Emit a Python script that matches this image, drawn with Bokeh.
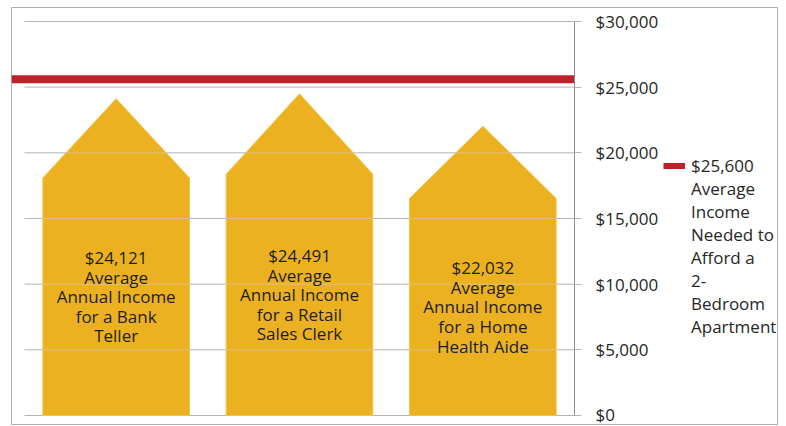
from bokeh.plotting import figure
from bokeh.models import Range1d, FixedTicker, NumeralTickFormatter, Legend, LegendItem, ColumnDataSource
from bokeh.embed import file_html
from bokeh.resources import INLINE
from bokeh.core.properties import value

# ---- data ----
categories = ["Bank Teller", "Retail Sales Clerk", "Home Health Aide"]
annual_income = [24121, 24491, 22032]
bar_texts = [
    "$24,121\nAverage\nAnnual Income\nfor a Bank\nTeller",
    "$24,491\nAverage\nAnnual Income\nfor a Retail\nSales Clerk",
    "$22,032\nAverage\nAnnual Income\nfor a Home\nHealth Aide",
]
needed_income = 25600
needed_value_label = "$25,600"
needed_text = "Average\nIncome\nNeeded to\nAfford a\n2-\nBedroom\nApartment"
y_ticks = [0, 5000, 10000, 15000, 20000, 25000, 30000]

# ---- layout constants (pixels) ----
Y_MAX = 30000
N = len(categories)
BOX_L, BOX_T, BOX_R, BOX_B = 11, 7, 778, 425     # outer bordered box = plot frame
PLOT_T, PLOT_B = 21, 415                         # where 30000 and 0 fall
CAT_L, CAT_R = 24, 574                           # category band
K = (PLOT_B - PLOT_T) / Y_MAX                    # px per value unit
CAT_PX = (CAT_R - CAT_L) / N
X_START = -(CAT_L - BOX_L) / CAT_PX
X_END = X_START + (BOX_R - BOX_L) / CAT_PX
Y_START = -(BOX_B - PLOT_B) / K
Y_END = Y_MAX + (PLOT_T - BOX_T) / K
HALF = 0.4          # half bar width (category units)
BODY_FRAC = 0.75    # straight walls take 3/4 of the height, roof the rest

FONT = "Open Sans"
BAR_COLOR = "#ECB121"
RED = "#C0202A"
GRID = "#b4b4b4"

p = figure(frame_width=BOX_R - BOX_L, frame_height=BOX_B - BOX_T,
           x_range=Range1d(X_START, X_END), y_range=Range1d(Y_START, Y_END),
           x_axis_location=None, y_axis_location="right",
           output_backend="svg", toolbar_location=None,
           min_border_left=BOX_L, min_border_top=BOX_T, min_border_bottom=0, min_border_right=0,
           outline_line_color="#b0b0b0", outline_line_width=1)
p.grid.visible = False

# gridlines over the category region
p.segment(x0=[0] * len(y_ticks), x1=[N] * len(y_ticks), y0=y_ticks, y1=y_ticks,
          line_color=GRID, line_width=1)

# house-shaped bars
xs, ys, cx, ty = [], [], [], []
gx0, gx1, gy = [], [], []
for i, v in enumerate(annual_income):
    c = i + 0.5
    shoulder = v * BODY_FRAC
    xs.append([c - HALF, c - HALF, c, c + HALF, c + HALF])
    ys.append([0, shoulder, v, shoulder, 0])
    cx.append(c)
    ty.append(shoulder / 2)
    for t in y_ticks:
        if 0 < t < v:
            h = HALF if t <= shoulder else HALF * (v - t) / (v - shoulder)
            gx0.append(c - h)
            gx1.append(c + h)
            gy.append(t)

src = ColumnDataSource(dict(xs=xs, ys=ys, cat=categories, income=annual_income))
p.patches("xs", "ys", source=src, fill_color=BAR_COLOR, line_color="#F2C54A", line_width=1)

# faint gridlines showing through the bars
p.segment(x0=gx0, x1=gx1, y0=gy, y1=gy, line_color="#d0d0d0", line_alpha=0.55, line_width=1)

p.text(x=cx, y=ty, text=bar_texts, text_align="center", text_baseline="middle",
       text_font=value(FONT), text_font_size="17px", text_color="#1e1e1e",
       text_line_height=0.85)

# needed income line
red = p.line(x=[X_START, N], y=[needed_income, needed_income],
             line_color=RED, line_width=8)
# invisible companion used only for the wrapped legend text
red_text = p.line(x=[X_START, N], y=[needed_income, needed_income],
                  line_color=RED, line_alpha=0, line_width=8)

# axis, drawn at the right end of the category band
ax = p.yaxis[0]
ax.fixed_location = N
ax.bounds = (0, Y_MAX)
ax.ticker = FixedTicker(ticks=y_ticks)
ax.formatter = NumeralTickFormatter(format="$0,0")
ax.axis_line_color = "#8c8c8c"
ax.major_tick_line_color = GRID
ax.major_tick_out = 7
ax.major_tick_in = 0
ax.minor_tick_line_color = None
ax.major_label_standoff = 14
ax.major_label_text_font = FONT
ax.major_label_text_font_size = "17px"
ax.major_label_text_color = "#262626"

legend = Legend(items=[LegendItem(label=needed_value_label, renderers=[red]),
                       LegendItem(label=needed_text, renderers=[red_text])],
                location=(663 - BOX_L, BOX_B - 338), glyph_width=22, glyph_height=6,
                label_height=10, label_standoff=6, padding=0, margin=0, spacing=0,
                border_line_color=None, background_fill_alpha=0,
                label_text_font=FONT, label_text_font_size="17px",
                label_text_color="#262626", label_text_line_height=0.85)
p.add_layout(legend)

open("out.html", "w").write(file_html(p, INLINE))
